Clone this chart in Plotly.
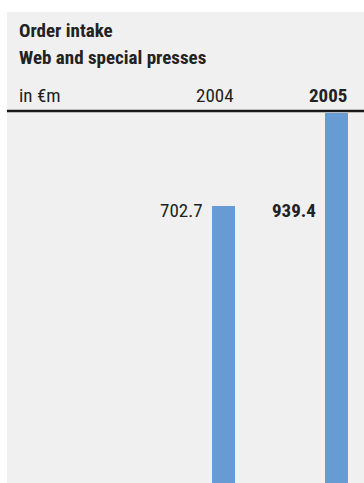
import plotly.graph_objects as go

years = ["2004", "2005"]
values = [702.7, 939.4]
value_labels = ["702.7", "<b>939.4</b>"]
year_labels = ["2004", "<b>2005</b>"]
title_lines = ["<b>Order intake</b>", "<b>Web and special presses</b>"]
unit_label = "in €m"

W, H = 364, 483
PL, PT = 7, 113  # plot area left / top in px
PW, PH = W - PL, H - PT

FONT = "Roboto Condensed, Liberation Sans Narrow, DejaVu Sans Condensed, Roboto, sans-serif"
TXT = "#222222"
BAR = "#669bd4"
BG = "#f0f0f0"


def px(x):
    return (x - PL) / PW


def py(y):
    return (H - y) / PH


fig = go.Figure(
    go.Bar(
        x=years,
        y=values,
        width=0.2035,
        marker=dict(color=BAR, line=dict(width=0)),
        hoverinfo="skip",
    )
)

annotations = []
annotations.append(dict(text=title_lines[0], x=px(17), y=py(30), xref="paper", yref="paper",
                        xanchor="left", yanchor="middle", showarrow=False,
                        font=dict(family=FONT, size=19, color=TXT)))
annotations.append(dict(text=title_lines[1], x=px(17), y=py(57), xref="paper", yref="paper",
                        xanchor="left", yanchor="middle", showarrow=False,
                        font=dict(family=FONT, size=19, color=TXT)))
annotations.append(dict(text=unit_label, x=px(17), y=py(95), xref="paper", yref="paper",
                        xanchor="left", yanchor="middle", showarrow=False,
                        font=dict(family=FONT, size=19, color=TXT)))
for i, lab in enumerate(year_labels):
    annotations.append(dict(text=lab, x=i, y=py(95), xref="x", yref="paper",
                            xanchor="right", yanchor="middle", showarrow=False, xshift=12,
                            font=dict(family=FONT, size=19, color=TXT)))
for i, lab in enumerate(value_labels):
    annotations.append(dict(text=lab, x=i, y=py(210.5), xref="x", yref="paper",
                            xanchor="right", yanchor="middle", showarrow=False, xshift=-19,
                            font=dict(family=FONT, size=19, color=TXT)))

shapes = [
    dict(type="rect", xref="paper", yref="paper", x0=0, x1=1, y0=0, y1=py(12),
         fillcolor=BG, line=dict(width=0), layer="below"),
    dict(type="line", xref="paper", yref="paper", x0=0, x1=1, y0=py(111), y1=py(111),
         line=dict(color="#1a1a1a", width=2.5)),
]

fig.update_layout(
    width=W, height=H,
    margin=dict(l=PL, r=0, t=PT, b=0, pad=0),
    paper_bgcolor="white",
    plot_bgcolor=BG,
    showlegend=False,
    bargap=0,
    xaxis=dict(type="category", range=[-1.916, 1.243], visible=False, fixedrange=True),
    yaxis=dict(range=[0, 939.4], visible=False, fixedrange=True),
    annotations=annotations,
    shapes=shapes,
)

fig.write_html(
    "out.html",
    config={"displayModeBar": False, "staticPlot": True},
    post_script="document.body.style.margin='0';document.body.style.overflow='hidden';",
)
